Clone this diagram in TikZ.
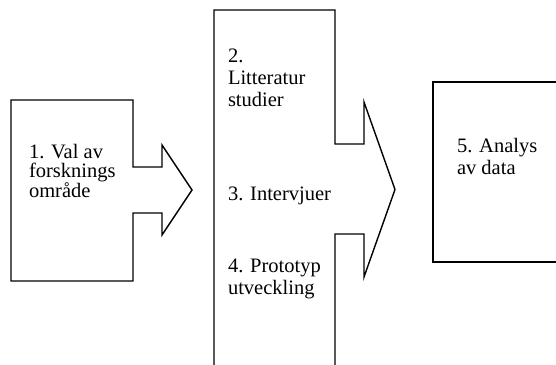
\documentclass[tikz,border=0pt]{standalone}
\usepackage{fontspec}
\setmainfont{Liberation Serif}
\tikzset{
  outline/.style={draw=black, line width=1.4pt, line join=miter},
  label/.style={inner sep=0pt, outer sep=0pt, anchor=base west, align=left, font=\fontsize{20.5}{22}\selectfont},
  labeltight/.style={label, font=\fontsize{20.5}{19.5}\selectfont}
}
\begin{document}
\begin{tikzpicture}[x=1pt, y=-1pt]
\useasboundingbox (0,0) rectangle (556,364);
\begin{scope}
\clip (0,0) rectangle (556,364);
% shape 1
\draw[outline] (11,100) -- (133,100) -- (133,167) -- (162,167) -- (162,145)
  -- (192,190) -- (162,235) -- (162,213) -- (133,213) -- (133,281) -- (11,281) -- cycle;
% shape 2
\draw[outline] (214,372) -- (214,10) -- (335,10) -- (335,144) -- (364,144) -- (364,102)
  -- (395,189.5) -- (364,277) -- (364,234) -- (335,234) -- (335,372);
% shape 3
\draw[outline] (560,82) -- (433,82) -- (433,262) -- (560,262);
\end{scope}
% base anchor of a multi-line node is the baseline of its last line
\node[labeltight] (t1) at (29,197) {1. Val av\\forsknings\\område};
\node[label] (t2) at (228,106) {2.\\Litteratur\\studier};
\node[label] (t3) at (228,200) {3. Intervjuer};
\node[label] (t4) at (228,294) {4. Prototyp\\utveckling};
\node[label] (t5) at (457,174) {5. Analys\\av data};
\end{tikzpicture}
\end{document}
